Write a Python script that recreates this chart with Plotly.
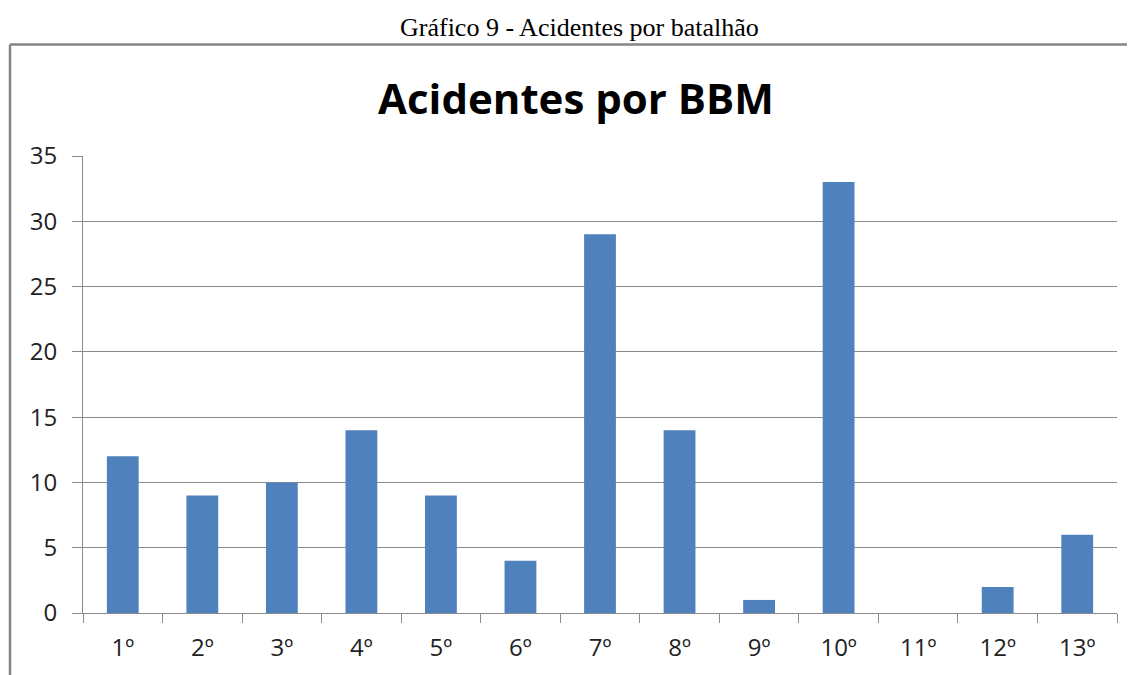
import plotly.graph_objects as go

# Dados
batalhoes = ['1º', '2º', '3º', '4º', '5º', '6º', '7º', '8º', '9º', '10º', '11º', '12º', '13º']
acidentes = [12, 9, 10, 14, 9, 4, 29, 14, 1, 33, 0, 2, 6]

# a página tem margem de 8px no body
OFF = 8
W, H = 1127, 667
L, R, T, B = 75, 18, 148, 60
pw, ph = W - L - R, H - T - B

def px(x):
    return (x - OFF - L) / pw

def py(y):
    return (H - B - (y - OFF)) / ph

fig = go.Figure(go.Bar(
    x=batalhoes,
    y=acidentes,
    marker=dict(color='#4F81BD', line=dict(width=0)),
    width=0.4
))

fig.update_layout(
    width=W, height=H,
    margin=dict(l=L, r=R, t=T, b=B),
    plot_bgcolor='white',
    paper_bgcolor='white',
    showlegend=False,
    font=dict(family='Open Sans', color='#222222'),
    shapes=[
        dict(type='line', xref='paper', yref='paper', x0=px(10), x1=px(10), y0=py(44), y1=py(700),
             line=dict(color='#858585', width=2.5)),
        dict(type='line', xref='paper', yref='paper', x0=px(10), x1=px(1160), y0=py(44), y1=py(44),
             line=dict(color='#858585', width=2.5)),
    ],
    annotations=[
        dict(text='Gráfico 9 - Acidentes por batalhão', xref='paper', yref='paper',
             x=px(579), y=py(27), showarrow=False, xanchor='center', yanchor='middle',
             font=dict(family='Liberation Serif', size=26, color='#000000')),
        dict(text='<b>Acidentes por BBM</b>', xref='paper', yref='paper',
             x=px(576), y=py(97), showarrow=False, xanchor='center', yanchor='middle',
             font=dict(family='Open Sans', size=42, color='#000000')),
    ]
)

fig.update_yaxes(
    range=[0, 35], dtick=5,
    showgrid=True, gridcolor='#8a8a8a', gridwidth=1,
    showline=True, linecolor='#8a8a8a', linewidth=1,
    ticks='outside', ticklen=10, tickcolor='#8a8a8a',
    tickfont=dict(family='Open Sans', size=24, color='#222222'),
    ticklabelstandoff=10,
    zeroline=False
)
fig.update_xaxes(
    showline=True, linecolor='#8a8a8a', linewidth=1,
    ticks='outside', ticklen=9, tickcolor='#8a8a8a',
    tickson='boundaries',
    tickfont=dict(family='Open Sans', size=24, color='#222222'),
    ticklabelstandoff=13
)

fig.write_html("out.html")
